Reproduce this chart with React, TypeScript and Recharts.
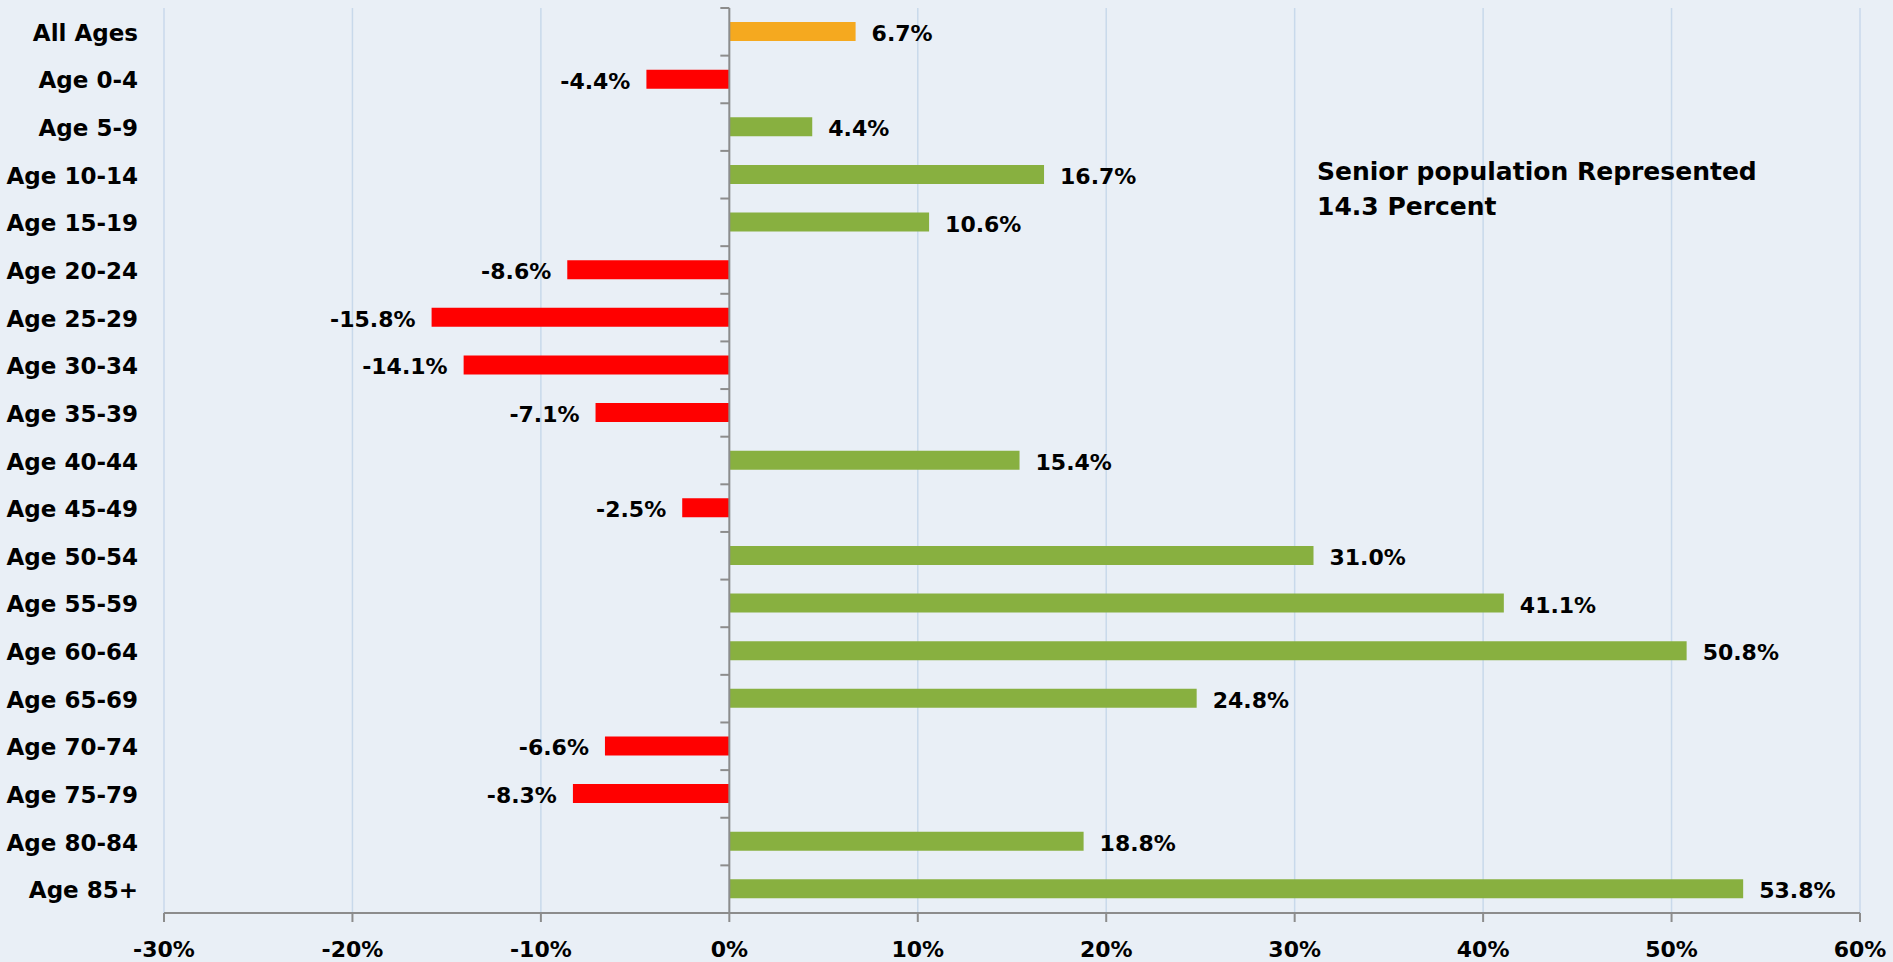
import { BarChart, Bar, XAxis, YAxis, CartesianGrid, Cell, LabelList, ReferenceLine } from 'recharts'

const categories = [
  'All Ages', 'Age 0-4', 'Age 5-9', 'Age 10-14', 'Age 15-19', 'Age 20-24', 'Age 25-29',
  'Age 30-34', 'Age 35-39', 'Age 40-44', 'Age 45-49', 'Age 50-54', 'Age 55-59',
  'Age 60-64', 'Age 65-69', 'Age 70-74', 'Age 75-79', 'Age 80-84', 'Age 85+',
]
const changes = [
  6.7, -4.4, 4.4, 16.7, 10.6, -8.6, -15.8, -14.1, -7.1, 15.4, -2.5, 31.0, 41.1, 50.8, 24.8, -6.6, -8.3, 18.8, 53.8,
]
const xTicks = [-30, -20, -10, 0, 10, 20, 30, 40, 50, 60]
const noteLines = ['Senior population Represented', '14.3 Percent']

const W = 1893
const H = 962
const M = { top: 8, right: 33, bottom: 0, left: 0 }
const Y_W = 164
const X_H = 49
const FONT = '"DejaVu Sans", sans-serif'

const plotW = W - M.left - M.right - Y_W
const plotH = H - M.top - M.bottom - X_H
const band = plotH / categories.length
const zeroX = M.left + Y_W + plotW * (0 - xTicks[0]) / (xTicks[xTicks.length - 1] - xTicks[0])

const data = categories.map((name, i) => ({ name, value: changes[i] }))

const barColor = (i: number, v: number) => (i === 0 ? '#F5A91F' : v < 0 ? '#FF0000' : '#88B040')

function CategoryTick(props: any) {
  const { x, y, payload, index } = props
  return (
    <g>
      <text x={x} y={y + 1} textAnchor="end" dominantBaseline="central" fontFamily={FONT} fontWeight="bold" fontSize={23} fill="#000">
        {payload.value}
      </text>
      <line x1={zeroX - 9} x2={zeroX} y1={y - band / 2} y2={y - band / 2} stroke="#8C8C8C" strokeWidth={2} />
      {index === categories.length - 1 && (
        <line x1={zeroX - 9} x2={zeroX} y1={y + band / 2} y2={y + band / 2} stroke="#8C8C8C" strokeWidth={2} />
      )}
    </g>
  )
}

function ValueLabel(props: any) {
  const { x, y, width, height, value } = props
  const a = Math.min(x, x + width)
  const b = Math.max(x, x + width)
  const neg = value < 0
  return (
    <text
      x={neg ? a - 16 : b + 16}
      y={y + height / 2 + 2}
      textAnchor={neg ? 'end' : 'start'}
      dominantBaseline="central"
      fontFamily={FONT}
      fontWeight="bold"
      fontSize={22}
      fill="#000"
    >
      {value.toFixed(1) + '%'}
    </text>
  )
}

export default function App() {
  return (
    <div style={{ position: 'relative', width: W, height: H, background: '#E9EFF6' }}>
      <style>{'body{margin:0}'}</style>
      <BarChart width={W} height={H} data={data} layout="vertical" margin={M} barSize={19}>
        <CartesianGrid horizontal={false} stroke="#C8D9EB" strokeWidth={1.5} />
        <XAxis
          type="number"
          domain={[-30, 60]}
          ticks={xTicks}
          height={X_H}
          tickFormatter={(v: number) => v + '%'}
          tick={{ fontFamily: FONT, fontWeight: 'bold', fontSize: 22, fill: '#000' }}
          stroke="#8C8C8C"
          axisLine={{ stroke: '#8C8C8C', strokeWidth: 2 }}
          tickLine={{ stroke: '#8C8C8C', strokeWidth: 2 }}
          tickSize={9}
          tickMargin={19}
        />
        <YAxis
          type="category"
          dataKey="name"
          width={Y_W}
          axisLine={false}
          tickLine={false}
          tickSize={0}
          tickMargin={26}
          interval={0}
          tick={<CategoryTick />}
        />
        <ReferenceLine x={0} stroke="#8C8C8C" strokeWidth={2} />
        <Bar dataKey="value" isAnimationActive={false}>
          {data.map((d, i) => (
            <Cell key={d.name} fill={barColor(i, d.value)} />
          ))}
          <LabelList dataKey="value" content={<ValueLabel />} />
        </Bar>
      </BarChart>
      <div
        style={{
          position: 'absolute',
          left: 1317,
          top: 154,
          fontFamily: FONT,
          fontWeight: 'bold',
          fontSize: 25,
          lineHeight: '35px',
          color: '#000',
        }}
      >
        {noteLines.map((t) => (
          <div key={t}>{t}</div>
        ))}
      </div>
    </div>
  )
}
